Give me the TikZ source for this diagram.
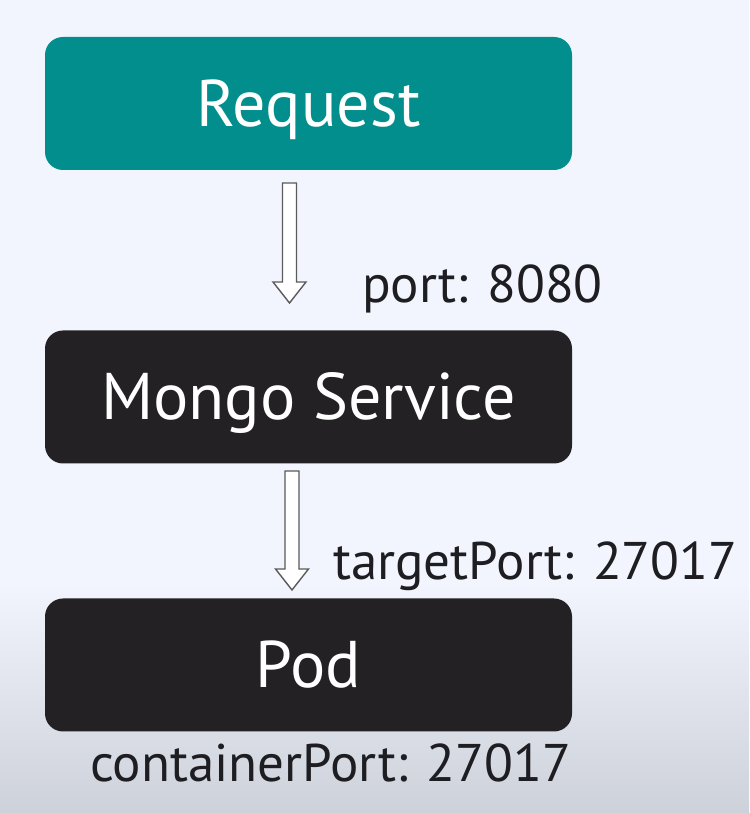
\documentclass[tikz,border=0pt]{standalone}
\usepackage{fontspec}
\setmainfont{PT Sans}
\usetikzlibrary{calc}
\definecolor{bgtop}{HTML}{F2F5FD}
\definecolor{bgbot}{HTML}{CDD1DA}
\definecolor{teal1}{HTML}{028E8C}
\definecolor{boxblack}{HTML}{232123}
\definecolor{arrowgrey}{HTML}{5A5A5A}
\definecolor{labeltext}{HTML}{1E1E22}
\tikzset{
  box/.style={rounded corners=18pt, minimum width=527pt, minimum height=133pt,
    inner sep=0pt, text=white, font=\fontsize{66pt}{70pt}\selectfont,
    text height=46pt, text depth=0pt},
  portlabel/.style={anchor=base west, inner sep=0pt, text=labeltext,
    font=\fontsize{53pt}{56pt}\selectfont},
  hollow/.style={draw=arrowgrey, fill=white, line width=1.4pt, line join=miter}
}
\newcommand\hollowarrow[2]{%
  \draw[hollow] let \p1=(#1), \p2=(#2) in
    (\x1-7pt,\y1) -- (\x1+7pt,\y1) -- (\x1+7pt,\y2+21pt) -- (\x1+16.5pt,\y2+21pt)
    -- (\x1,\y2) -- (\x1-16.5pt,\y2+21pt) -- (\x1-7pt,\y2+21pt) -- cycle;}
\begin{document}
\begin{tikzpicture}[x=1pt,y=1pt]
\useasboundingbox (0,0) rectangle (749,813);
\fill[bgtop] (0,0) rectangle (749,813);
\shade[top color=bgtop, bottom color=bgbot] (0,0) rectangle (749,230);
\node[box, fill=teal1] (req) at (308.5,709.5) {Request};
\node[box, fill=boxblack] (svc) at (308.5,416) {Mongo Service};
\node[box, fill=boxblack] (pod) at (308.5,148) {Pod};
\coordinate (a1s) at (289.5,630);
\coordinate (a1e) at (289.5,510);
\coordinate (a2s) at (292,342);
\coordinate (a2e) at (292,223);
\hollowarrow{a1s}{a1e}
\hollowarrow{a2s}{a2e}
\node[portlabel] (l1) at (362,510) {port: 8080};
\node[portlabel] (l2) at (333,233) {targetPort: 27017};
\node[portlabel] (l3) at (90,31) {containerPort: 27017};
\end{tikzpicture}
\end{document}
